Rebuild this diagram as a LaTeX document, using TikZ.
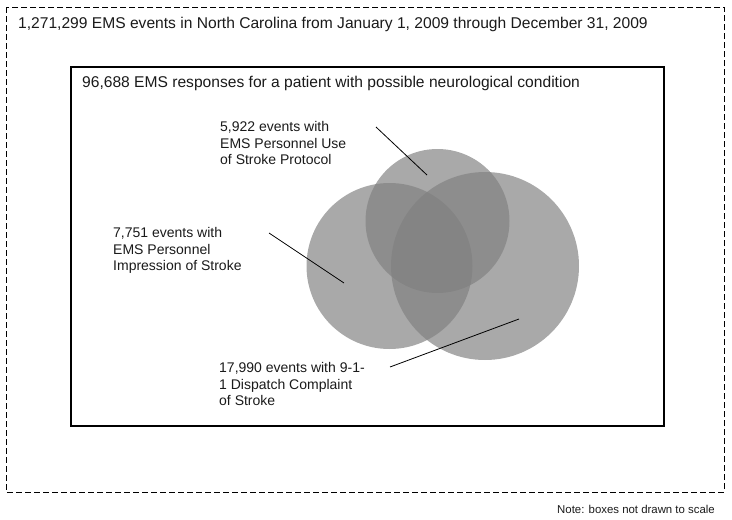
\documentclass[tikz,border=0pt]{standalone}
\usepackage{fontspec}
\setmainfont{Liberation Sans}
\usetikzlibrary{positioning,calc}
\definecolor{vnDisc}{HTML}{808080}
\definecolor{vnInk} {HTML}{1A1A1A}

\begin{document}
\begin{tikzpicture}[x=1pt,y=-1pt,
      vset/.style={circle,fill=vnDisc,fill opacity=0.68,draw=none,inner sep=0pt},
      lbl/.style={align=left,anchor=west,inner sep=0pt,text=vnInk,
                  font=\fontsize{14}{16.3}\selectfont},
      lead/.style={draw=black,line width=0.8pt}]

    \useasboundingbox (0,0) rectangle (732,520);

    % all events, then the neurological subset inside it
    \draw[line width=0.8pt,dash pattern=on 6pt off 3pt] (6,7) rectangle (724,492);
    \node[anchor=base west,inner sep=0pt,font=\fontsize{15.6}{18}\selectfont,text=vnInk]
      (all) at (18,28) {1,271,299 EMS events in North Carolina from January 1, 2009 through December 31, 2009};

    \draw[line width=1.2pt] (71,67) rectangle (664,426);
    \node[anchor=base west,inner sep=0pt,font=\fontsize{15.6}{18}\selectfont,text=vnInk]
      (neuro) at (82,87) {96,688 EMS responses for a patient with possible neurological condition};

    % the three stroke sets
    \node[vset,minimum size=166] (impr) at (389.5,266) {};
    \node[vset,minimum size=144] (prot) at (437.5,221) {};
    \node[vset,minimum size=188] (disp) at (485,266) {};

    \node[lbl] (lprot) at (220,143.2) {5,922 events with\\EMS Personnel Use\\of Stroke Protocol};
    \node[lbl] (limpr) at (113,250.5) {7,751 events with\\EMS Personnel\\Impression of Stroke};
    \node[lbl] (ldisp) at (219,384) {17,990 events with 9-1-\\1 Dispatch Complaint\\of Stroke};

    \coordinate (cprot) at (376,127);
    \coordinate (cimpr) at (269,233);
    \coordinate (cdisp) at (390,367);
    \draw[lead] (cprot) -- ($(prot)+(-10.5,-46)$);
    \draw[lead] (cimpr) -- ($(impr)+(-45.5,17)$);
    \draw[lead] (cdisp) -- ($(disp)+(34,53)$);

    \node[anchor=base east,inner sep=0pt,font=\fontsize{11.4}{13}\selectfont,text=vnInk]
      (note) at (715,513) {Note: boxes not drawn to scale};
  \end{tikzpicture}
\end{document}
